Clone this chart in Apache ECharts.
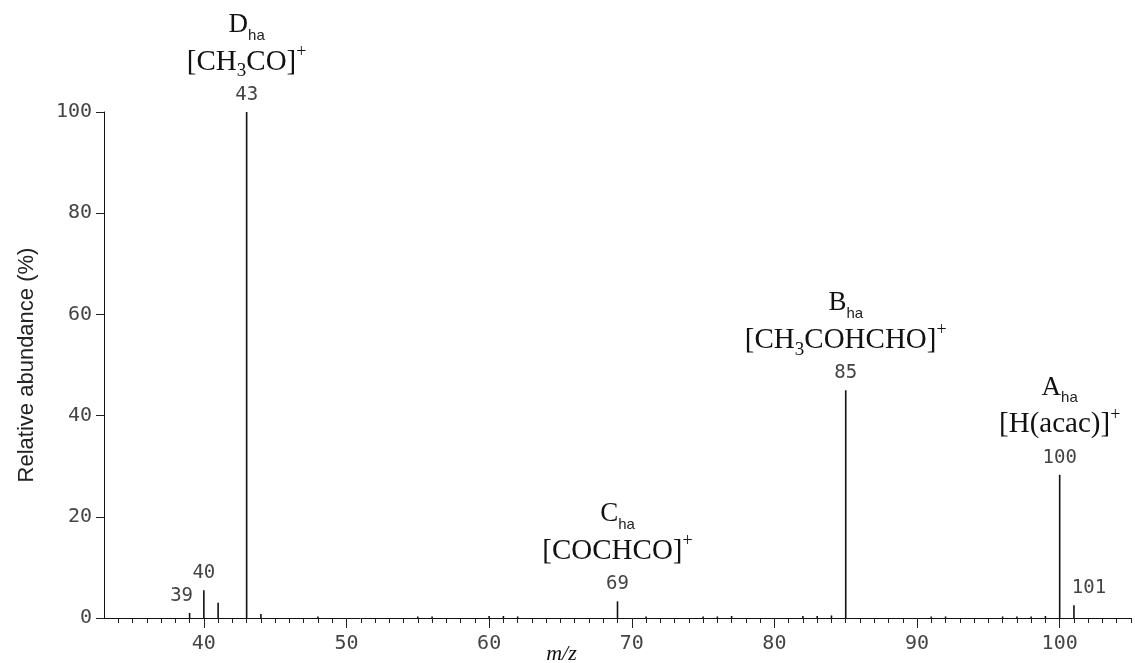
<!DOCTYPE html>
<html>
<head>
<meta charset="utf-8">
<script src="https://cdn.jsdelivr.net/npm/echarts@6/dist/echarts.min.js"></script>
<style>html,body{margin:0;padding:0;background:#fff;}#c{width:1135px;height:663px;}</style>
</head>
<body>
<div id="c"></div>
<script>
// m/z values and relative abundances (%)
const mz        = [39, 40, 41, 43, 44, 48, 55, 56, 60, 61, 62, 69, 71, 75, 76, 77, 82, 83, 84, 85, 91, 92, 96, 97, 98, 99, 100, 101];
const abundance = [1, 5.5, 3, 100, 0.8, 0.3, 0.3, 0.3, 0.4, 0.4, 0.3, 3.3, 0.3, 0.3, 0.3, 0.4, 0.4, 0.4, 0.5, 45, 0.3, 0.3, 0.3, 0.3, 0.3, 0.4, 28.3, 2.5];

// peaks carrying an m/z number label
const labelledPeaks = [39, 40, 43, 69, 85, 100, 101];
// ion annotations (letter + formula) for the main peaks
const ionPeaks    = [43, 69, 85, 100];
const ionLetters  = ['D', 'C', 'B', 'A'];
const ionFormulas = ['[CH_3CO]^+', '[COCHCO]^+', '[CH_3COHCHO]^+', '[H(acac)]^+'];

// axis ticks
const yTicks = [0, 20, 40, 60, 80, 100];
const xMajorTicks = [40, 50, 60, 70, 80, 90, 100];
const xMinorTicks = [];
for (let v = 34; v <= 105; v++) xMinorTicks.push(v);

const monoFont = 'DejaVu Sans Mono';

function formulaRich(f) {
  let out = '';
  let buf = '';
  for (let i = 0; i < f.length; i++) {
    const ch = f[i];
    if (ch === '_' || ch === '^') {
      if (buf) { out += '{F|' + buf + '}'; buf = ''; }
      out += (ch === '_' ? '{sub|' : '{sup|') + f[i + 1] + '}';
      i++;
    } else buf += ch;
  }
  if (buf) out += '{F|' + buf + '}';
  return out;
}

const richStyles = {
  L:   { fontFamily: 'Liberation Serif', fontSize: 27, color: '#111', lineHeight: 36, verticalAlign: 'middle' },
  s:   { fontFamily: 'Liberation Sans', fontSize: 15, color: '#222', lineHeight: 19, verticalAlign: 'bottom' },
  F:   { fontFamily: 'Liberation Serif', fontSize: 29, color: '#111', lineHeight: 38, verticalAlign: 'middle' },
  sub: { fontFamily: 'Liberation Serif', fontSize: 19, color: '#111', lineHeight: 21, verticalAlign: 'bottom' },
  sup: { fontFamily: 'Liberation Serif', fontSize: 18, color: '#111', lineHeight: 18, verticalAlign: 'top' },
  n:   { fontFamily: monoFont, fontSize: 19, color: '#444', lineHeight: 28, verticalAlign: 'middle' }
};

const seriesData = mz.map((m, i) => {
  const item = { value: [m, abundance[i]] };
  if (labelledPeaks.indexOf(m) >= 0) {
    const k = ionPeaks.indexOf(m);
    let text = '{n|' + m + '}';
    if (k >= 0) {
      text = '{L|' + ionLetters[k] + '}{s|ha}\n' + formulaRich(ionFormulas[k]) + '\n' + text;
    }
    let offset = [0, 0];
    if (m === 39) offset = [-8, 0];
    if (m === 101) offset = [15, 0];
    item.label = {
      show: true, position: 'top', distance: 3, offset: offset,
      align: 'center', formatter: text, rich: richStyles
    };
  }
  return item;
});

const chart = echarts.init(document.getElementById('c'), null, { renderer: 'canvas' });
chart.setOption({
  backgroundColor: '#fff',
  animation: false,
  grid: { left: 104, right: 4, top: 112, bottom: 45, containLabel: false, outerBoundsMode: 'none' },
  xAxis: [
    {
      type: 'value', min: 33, max: 105, position: 'bottom',
      axisLine: { show: true, lineStyle: { color: '#111', width: 1 } },
      axisTick: { show: true, customValues: xMinorTicks, length: 5, lineStyle: { color: '#222' } },
      axisLabel: { show: false },
      splitLine: { show: false }
    },
    {
      type: 'value', min: 33, max: 105, position: 'bottom',
      axisLine: { show: false },
      axisTick: { show: true, customValues: xMajorTicks, length: 10, lineStyle: { color: '#222' } },
      axisLabel: { show: true, customValues: xMajorTicks, fontFamily: monoFont, fontSize: 20, color: '#444', margin: 16 },
      splitLine: { show: false },
      name: 'm/z', nameLocation: 'middle', nameGap: 25, nameMoveOverlap: false,
      nameTextStyle: { fontFamily: 'Liberation Serif', fontStyle: 'italic', fontSize: 22, color: '#111', padding: [0, 112, 0, 0] }
    }
  ],
  yAxis: {
    type: 'value', min: 0, max: 100, interval: 20,
    axisLine: { show: true, lineStyle: { color: '#111', width: 1 } },
    axisTick: { show: true, length: 8, lineStyle: { color: '#222' } },
    axisLabel: { fontFamily: monoFont, fontSize: 20, color: '#444', margin: 12,
      customValues: yTicks },
    splitLine: { show: false },
    name: 'Relative abundance (%)', nameLocation: 'middle', nameGap: 66, nameMoveOverlap: false,
    nameTextStyle: { fontFamily: 'Liberation Sans', fontSize: 22, color: '#222' }
  },
  series: [{
    type: 'bar', xAxisIndex: 0, yAxisIndex: 0,
    barWidth: 1.6,
    itemStyle: { color: '#111' },
    data: seriesData
  }]
});
</script>
</body>
</html>
